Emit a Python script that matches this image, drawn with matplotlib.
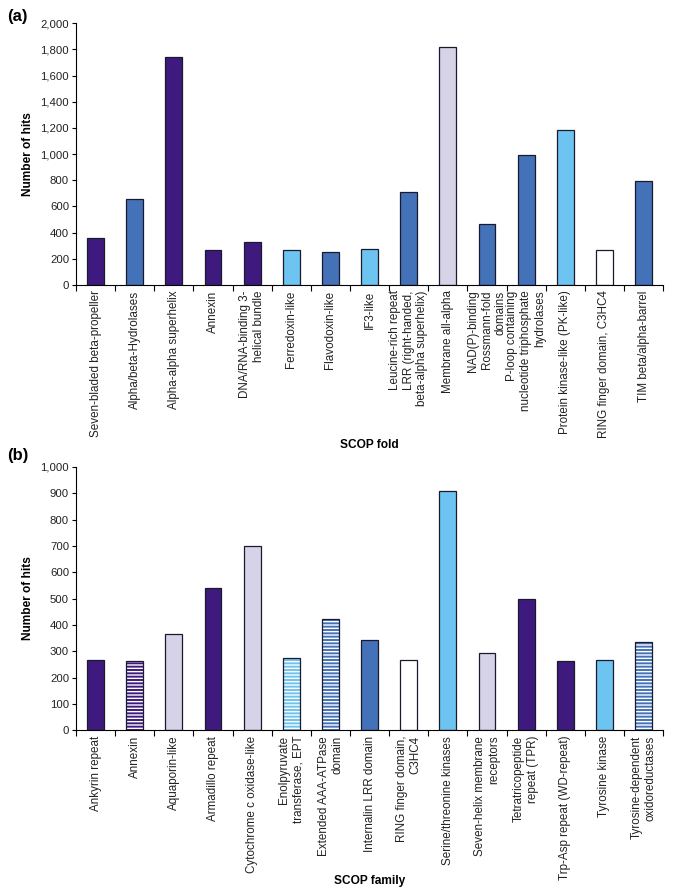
import numpy as np
import matplotlib
matplotlib.use("Agg")
import matplotlib.pyplot as plt
from matplotlib.ticker import FuncFormatter

plt.rcParams['font.family'] = ['Liberation Sans', 'DejaVu Sans']
plt.rcParams['hatch.linewidth'] = 1.0

# colours used in the original
DARK = '#3f1a7e'
MID = '#4472b8'
LIGHT = '#6ec4f0'
LAV = '#d6d3e8'
WHITE = '#ffffff'

# (a) SCOP fold
fold_labels = [
    'Seven-bladed beta-propeller', 'Alpha/beta-Hydrolases', 'Alpha-alpha superhelix',
    'Annexin', 'DNA/RNA-binding 3-\nhelical bundle', 'Ferredoxin-like',
    'Flavodoxin-like', 'IF3-like',
    'Leucine-rich repeat\nLRR (right-handed,\nbeta-alpha superhelix)',
    'Membrane all-alpha', 'NAD(P)-binding\nRossmann-fold\ndomains',
    'P-loop containing\nnucleotide triphosphate\nhydrolases',
    'Protein kinase-like (PK-like)', 'RING finger domain, C3HC4', 'TIM beta/alpha-barrel',
]
fold_hits = [360, 656, 1740, 265, 328, 265, 250, 277, 712, 1817, 468, 990, 1181, 270, 794]
fold_colors = [DARK, MID, DARK, DARK, DARK, LIGHT, MID, LIGHT, MID, LAV, MID, MID, LIGHT, WHITE, MID]

# (b) SCOP family
family_labels = [
    'Ankyrin repeat', 'Annexin', 'Aquaporin-like', 'Armadillo repeat',
    'Cytochrome c oxidase-like', 'Enolpyruvate\ntransferase, EPT',
    'Extended AAA-ATPase\ndomain', 'Internalin LRR domain',
    'RING finger domain,\nC3HC4', 'Serine/threonine kinases',
    'Seven-helix membrane\nreceptors', 'Tetratricopeptide\nrepeat (TPR)',
    'Trp-Asp repeat (WD-repeat)', 'Tyrosine kinase',
    'Tyrosine-dependent\noxidoreductases',
]
family_hits = [265, 263, 364, 540, 700, 273, 423, 344, 267, 907, 292, 499, 263, 267, 336]
family_colors = [DARK, DARK, LAV, DARK, LAV, LIGHT, MID, MID, WHITE, LIGHT, LAV, DARK, DARK, LIGHT, MID]
family_hatched = [False, True, False, False, False, True, True, False, False, False, False, False, False, False, True]


def draw_panel(ax, labels, hits, colors, hatched, ymax, ystep, xlabel):
    x = np.arange(len(labels))
    w = 0.43
    for i in range(len(labels)):
        if hatched[i]:
            ax.bar(x[i], hits[i], w, color=colors[i], edgecolor='white',
                   hatch='-----', linewidth=0, zorder=2)
            ax.bar(x[i], hits[i], w, fill=False, edgecolor='#1a1a2e',
                   linewidth=0.9, zorder=3)
        else:
            ax.bar(x[i], hits[i], w, color=colors[i], edgecolor='#1a1a2e',
                   linewidth=0.9, zorder=2)
    ax.set_xlim(-0.5, len(labels) - 0.5)
    ax.set_ylim(0, ymax)
    ax.set_yticks(np.arange(0, ymax + 1, ystep))
    ax.yaxis.set_major_formatter(FuncFormatter(lambda v, p: f'{int(v):,}'))
    ax.set_xticks(x)
    ax.set_xticklabels(labels, rotation=90, ha='center', va='top',
                       multialignment='right', fontsize=8.4, color='#222222')
    ax.set_xticks(np.arange(-0.5, len(labels)), minor=True)
    ax.tick_params(axis='x', which='major', length=0, pad=4)
    ax.tick_params(axis='x', which='minor', length=4, width=0.8)
    ax.tick_params(axis='y', length=3, width=0.8, labelsize=8.2, pad=2,
                   labelcolor='#222222')
    for s in ['top', 'right']:
        ax.spines[s].set_visible(False)
    for s in ['left', 'bottom']:
        ax.spines[s].set_linewidth(0.8)
    ax.set_ylabel('Number of hits', fontweight='bold', fontsize=8.6, labelpad=5)
    ax.set_xlabel(xlabel, fontweight='bold', fontsize=8.6)


fig = plt.figure(figsize=(6.85, 8.96), dpi=100)
ax1 = fig.add_axes([0.111, 0.682, 0.857, 0.292])
ax2 = fig.add_axes([0.111, 0.185, 0.857, 0.294])

draw_panel(ax1, fold_labels, fold_hits, fold_colors, [False] * 15, 2000, 200, 'SCOP fold')
draw_panel(ax2, family_labels, family_hits, family_colors, family_hatched, 1000, 100, 'SCOP family')

ax1.xaxis.set_label_coords(0.5, -0.59)
ax2.xaxis.set_label_coords(0.5, -0.55)

fig.text(0.01, 0.99, '(a)', fontsize=12, fontweight='bold', va='top')
fig.text(0.01, 0.50, '(b)', fontsize=12, fontweight='bold', va='top')

fig.savefig('out.png', dpi=100)
